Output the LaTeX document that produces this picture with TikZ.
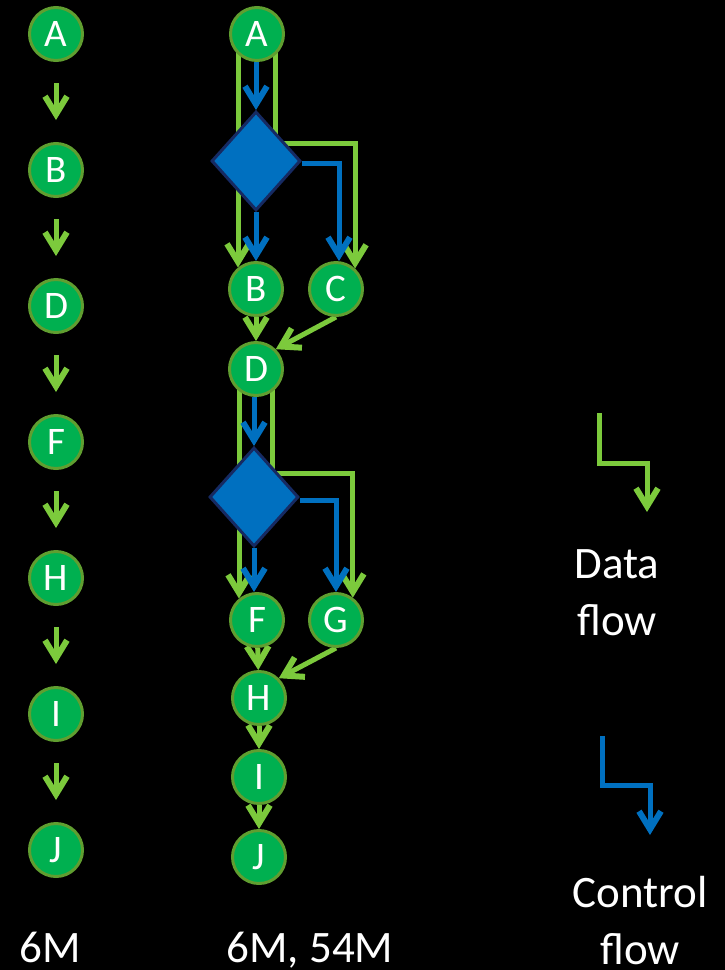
\documentclass[tikz,border=0pt]{standalone}
\usepackage{fontspec}
\setmainfont{Carlito}
\usetikzlibrary{arrows.meta,shapes.geometric}
\pgfdeclarelayer{background}
\pgfsetlayers{background,main}

\definecolor{nodefill}{RGB}{0,176,80}
\definecolor{nodeedge}{RGB}{96,158,48}
\definecolor{dataflow}{RGB}{124,202,60}
\definecolor{ctrlflow}{RGB}{0,112,192}
\definecolor{decedge}{RGB}{22,42,98}

\begin{document}
\begin{tikzpicture}[x=1pt,y=-1pt,
  tasknode/.style={circle, fill=nodefill, draw=nodeedge, line width=3pt,
    minimum size=53pt, inner sep=0pt, text=white,
    font=\fontsize{39}{39}\selectfont},
  decnode/.style={diamond, fill=ctrlflow, draw=decedge, line width=3pt,
    minimum width=89pt, minimum height=99pt, inner sep=0pt},
  flowtip/.style={-{Straight Barb[length=18pt,width=22pt,line width=6pt]}},
  dataline/.style={flowtip, draw=dataflow, line width=5pt},
  ctrlline/.style={flowtip, draw=ctrlflow, line width=5pt},
  captiontext/.style={text=white, font=\fontsize{45}{57}\selectfont, align=center},
]
\useasboundingbox (0,0) rectangle (725,970);

% ---- sequential version ----
\node[tasknode] (sA) at (56,34)  {A};
\node[tasknode] (sB) at (56,170) {B};
\node[tasknode] (sD) at (56,306) {D};
\node[tasknode] (sF) at (56,442) {F};
\node[tasknode] (sH) at (56,578) {H};
\node[tasknode] (sI) at (56,714) {I};
\node[tasknode] (sJ) at (56,850) {J};

% ---- speculative version ----
\node[tasknode] (mA) at (257,34)  {A};
\node[decnode]  (dA) at (256,161) {};
\node[tasknode] (mB) at (256,289) {B};
\node[tasknode] (mC) at (336,289) {C};
\node[tasknode] (mD) at (256,369) {D};
\node[decnode]  (dB) at (254,497) {};
\node[tasknode] (mF) at (257,620) {F};
\node[tasknode] (mG) at (336,620) {G};
\node[tasknode] (mH) at (259,698) {H};
\node[tasknode] (mI) at (259,777) {I};
\node[tasknode] (mJ) at (259,857) {J};

\begin{pgfonlayer}{background}
  % canvas
  \fill[black] (0,0) rectangle (725,970);
  % sequential chain
  \foreach \u/\v in {sA/sB,sB/sD,sD/sF,sF/sH,sH/sI,sI/sJ}
    \draw[dataline, shorten <=21pt, shorten >=22pt] (\u) -- (\v);
  % data flow
  \draw[dataline] (mB.130 |- mA.center) -- (mB.130);
  \draw[dataline] ([xshift=18pt]mA.center) |- ([yshift=18pt]dA.center) -| (mC.47);
  \draw[dataline] (mB) -- (mD);
  \draw[dataline] (mC.south) -- (mD.45);
  \draw[dataline] (mF.130 |- mD.center) -- (mF.130);
  \draw[dataline] ([xshift=16pt]mD.center) |- ([yshift=24pt]dB.center) -| (mG.53);
  \draw[dataline] (mF) -- (mH);
  \draw[dataline] (mG.south) -- (mH.45);
  \draw[dataline] (mH) -- (mI);
  \draw[dataline] (mI) -- (mJ);
  % control flow
  \draw[ctrlline] (mA.south -| dA.north) -- (dA.north);
  \draw[ctrlline] (dA.south) -- (dA.south |- mB.north);
  \draw[ctrlline] ([yshift=-2pt]dA.east) -| ([xshift=3pt]mC.north);
  \draw[ctrlline] (mD.south -| dB.north) -- (dB.north);
  \draw[ctrlline] (dB.south) -- (dB.south |- mF.north);
  \draw[ctrlline] ([yshift=-3pt]dB.east) -| (mG.north);
\end{pgfonlayer}

% ---- legend ----
\coordinate (gl0) at (599,413);
\coordinate (gl1) at (647,512);
\draw[dataline] (gl0) -- ++(0,50) -| (gl1);
\node[captiontext] (datalbl) at (617,593) {Data\\flow};

\coordinate (bl0) at (602,736);
\coordinate (bl1) at (650,835);
\draw[ctrlline] (bl0) -- ++(0,49) -| (bl1);
\node[captiontext] (ctrllbl) at (640,921) {Control\\flow};

% ---- captions ----
\node[captiontext, anchor=base] (seqlbl)  at (50,962)  {6M};
\node[captiontext, anchor=base] (speclbl) at (310,962) {6M, 54M};
\end{tikzpicture}
\end{document}
